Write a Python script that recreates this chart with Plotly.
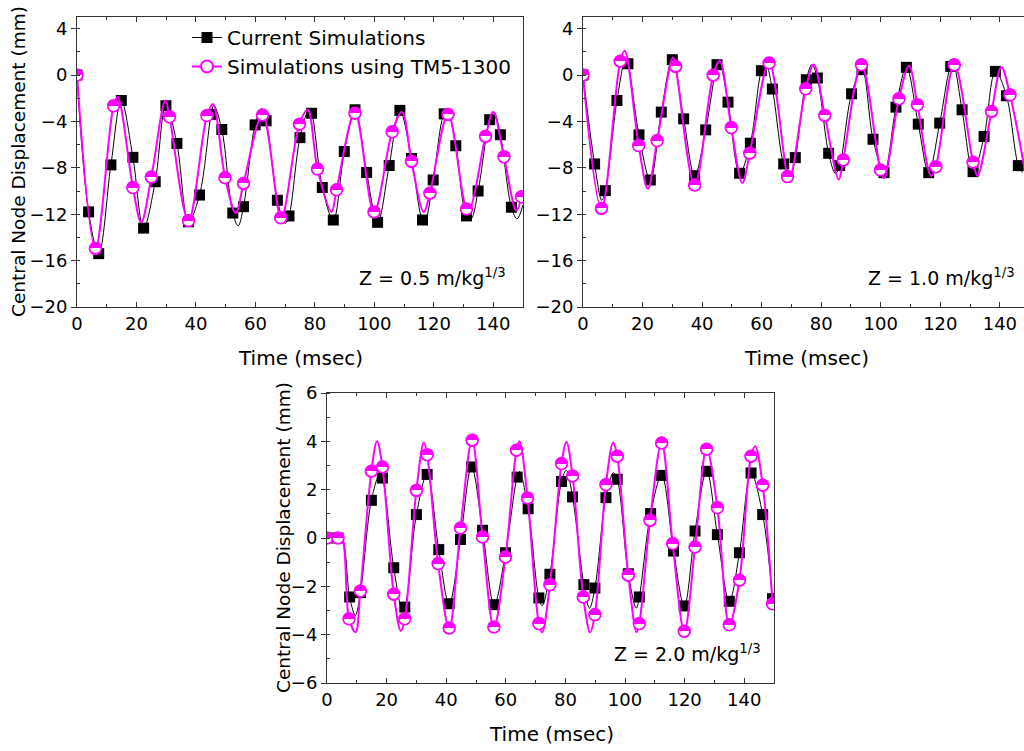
import plotly.graph_objects as go

# ---------------- Data ----------------
# Panel A : Z = 0.5 m/kg^1/3
a_cur_t = [0, 3.9, 7.3, 11.4, 14.9, 18.8, 22.4, 26.3, 29.9, 33.6, 37.5, 41.2, 45.1, 48.7, 52.4, 56.0,
           59.9, 63.6, 67.4, 71.3, 75.0, 78.9, 82.5, 86.2, 89.9, 93.5, 97.4, 101.1, 105.0, 108.6,
           112.5, 116.2, 119.8, 123.5, 127.4, 131.0, 134.9, 138.8, 142.4, 146.1]
a_cur_v = [0, -11.8, -15.4, -7.75, -2.2, -7.1, -13.2, -9.2, -2.65, -5.9, -12.65, -10.35, -3.4, -4.7,
           -11.9, -11.35, -4.3, -3.95, -10.8, -12.15, -5.4, -3.3, -9.7, -12.5, -6.6, -3.0, -8.4, -12.7,
           -7.8, -3.05, -7.2, -12.5, -9.05, -3.35, -6.1, -12.15, -10.0, -3.85, -5.15, -11.4]
a_cur_ext_t = [7.6, 14.5, 22.5, 30.2, 38.0, 46.0, 54.2, 62.0, 70.0, 78.0, 86.0, 93.8, 101.5, 109.2,
               117.0, 124.6, 132.5, 140.2, 148.0, 150.0]
a_cur_ext_v = [-15.6, -2.0, -13.3, -2.4, -12.9, -2.6, -13.0, -2.9, -12.8, -3.0, -12.7, -2.9, -12.8,
               -3.0, -12.6, -3.2, -12.4, -3.2, -12.4, -11.2]
a_tm_t = [0, 6.2, 12.3, 18.8, 25.0, 31.1, 37.5, 43.7, 49.8, 56.0, 62.4, 68.5, 74.8, 80.9, 87.3, 93.5,
          99.9, 106.0, 112.5, 118.7, 124.8, 131.0, 137.4, 143.6, 149.5]
a_tm_v = [0, -14.95, -2.65, -9.7, -8.8, -3.6, -12.55, -3.5, -8.85, -9.35, -3.45, -12.3, -4.25, -8.1,
          -9.9, -3.3, -11.8, -4.9, -7.45, -10.2, -3.4, -11.55, -5.3, -7.05, -10.5]
a_tm_ext_t = [6.6, 13.7, 21.6, 29.7, 37.6, 45.7, 53.4, 61.9, 69.3, 77.6, 85.6, 93.6, 100.6, 109.3,
              116.6, 124.8, 132.0, 140.0, 147.8]
a_tm_ext_v = [-15.1, -1.9, -12.7, -2.2, -12.6, -2.5, -11.9, -2.8, -12.1, -3.0, -11.8, -3.0, -11.7,
              -3.2, -11.8, -3.3, -11.6, -3.2, -11.7]

# Panel B : Z = 1.0 m/kg^1/3
b_cur_t = [0, 3.9, 7.5, 11.4, 15.1, 18.8, 22.6, 26.3, 30.0, 33.8, 37.5, 41.2, 45.0, 48.7, 52.6, 56.2,
           59.9, 63.6, 67.4, 71.3, 75.0, 78.7, 82.5, 86.2, 90.2, 93.7, 97.4, 101.1, 105.1, 108.6,
           112.6, 116.1, 119.8, 123.5, 127.3, 131.0, 134.7, 138.5, 142.2, 146.2]
b_cur_v = [0, -7.67, -9.97, -2.2, 0.97, -5.16, -9.05, -3.2, 1.32, -3.78, -8.68, -4.73, 0.89, -2.34,
           -8.47, -5.88, 0.37, -1.21, -7.67, -7.12, -0.41, -0.26, -6.75, -7.81, -1.62, 0.46, -5.54,
           -8.42, -2.77, 0.66, -4.24, -8.42, -4.15, 0.74, -3.0, -8.33, -5.3, 0.31, -1.79, -7.81]
b_cur_ext_t = [6.3, 14.3, 22.2, 30.2, 37.6, 45.7, 53.3, 61.3, 69.5, 76.9, 84.8, 93.8, 101.0, 108.9,
               116.2, 124.3, 131.6, 139.0, 147.6]
b_cur_ext_v = [-10.8, 1.4, -9.3, 1.5, -9.0, 1.2, -9.0, 1.0, -8.7, 0.9, -8.5, 0.7, -8.7, 0.9, -8.7,
               0.9, -8.6, 0.6, -8.4]
b_tm_t = [0, 6.2, 12.5, 18.7, 24.9, 31.1, 37.5, 43.7, 49.8, 56.0, 62.5, 68.7, 74.8, 81.2, 87.4, 93.5,
          99.9, 106.1, 112.3, 118.5, 124.7, 131.0, 137.2, 143.4]
b_tm_v = [0, -11.5, 1.18, -6.08, -5.65, 0.74, -9.48, -0.03, -4.53, -6.75, 1.03, -8.76, -1.19, -3.49,
          -7.32, 0.89, -8.19, -2.05, -2.57, -7.9, 0.89, -7.52, -3.14, -1.7]
b_tm_ext_t = [14.0, 21.8, 30.2, 45.9, 53.5, 69.4, 77.5, 85.9, 93.6, 101.1, 109.5, 116.9, 125.2,
              132.5, 140.5, 148.5]
b_tm_ext_v = [2.1, -9.8, 1.5, 1.2, -9.3, -9.0, 0.9, -9.0, 1.0, -8.9, 0.8, -8.7, 0.9, -8.7, 0.7, -8.4]

# Panel C : Z = 2.0 m/kg^1/3
c_cur_t = [0, 3.7, 7.6, 11.2, 14.9, 18.6, 22.4, 26.1, 30.0, 33.6, 37.5, 41.0, 44.8, 48.5, 52.2, 56.1,
           59.9, 63.8, 67.5, 71.1, 74.8, 78.7, 82.4, 86.2, 89.9, 93.6, 97.4, 101.1, 104.8, 108.6,
           112.3, 116.3, 119.9, 123.5, 127.4, 131.0, 135.0, 138.4, 142.3, 146.2, 149.5]
c_cur_v = [0, 0, -2.44, -2.26, 1.56, 2.48, -1.23, -2.86, 0.97, 2.63, -0.48, -2.72, -0.06, 2.94, 0.32,
           -2.76, -0.61, 2.52, 1.21, -2.48, -1.5, 2.34, 1.7, -1.93, -2.07, 1.67, 2.43, -1.48, -2.44,
           1.01, 2.59, -0.54, -2.81, 0.29, 2.76, 0.14, -2.62, -0.61, 2.69, 0.97, -2.51]
c_cur_ext_t = [5.0, 9.5, 17.7, 25.3, 33.1, 64.6, 72.2, 80.3, 88.1, 96.1, 103.8, 150.0]
c_cur_ext_v = [0.0, -3.2, 2.65, -2.95, 2.85, 2.75, -2.8, 2.8, -2.9, 2.7, -2.9, -2.75]
c_tm_t = [0, 3.7, 7.4, 11.2, 14.9, 18.6, 22.4, 26.1, 30.0, 33.6, 37.3, 41.0, 44.8, 48.7, 52.2, 56.0,
          59.9, 63.6, 67.3, 71.1, 74.8, 78.7, 82.4, 86.0, 89.9, 93.6, 97.4, 101.1, 104.8, 108.4,
          112.3, 116.0, 119.9, 123.5, 127.4, 131.0, 135.0, 138.4, 142.3, 146.2, 149.5]
c_tm_v = [0, 0, -3.34, -2.19, 2.76, 2.94, -2.33, -3.34, 1.97, 3.45, -1.06, -3.72, 0.41, 4.04, 0.04,
          -3.68, -0.79, 3.63, 1.66, -3.54, -1.93, 3.08, 2.57, -2.44, -3.17, 2.21, 3.38, -1.54, -3.54,
          0.73, 3.93, -0.23, -3.86, -0.37, 3.67, 1.26, -3.59, -1.75, 3.38, 2.18, -2.72]
c_tm_ext_t = [5.0, 9.6, 16.8, 24.8, 32.5, 64.6, 72.2, 80.35, 88.3, 96.05, 103.9, 143.7, 150.0]
c_tm_ext_v = [0.0, -3.9, 4.0, -3.85, 3.95, 4.0, -3.9, 3.97, -3.9, 3.95, -3.9, 3.8, -3.1]

panel_labels = ["Z = 0.5 m/kg<sup>1/3</sup>", "Z = 1.0 m/kg<sup>1/3</sup>", "Z = 2.0 m/kg<sup>1/3</sup>"]
series_names = ["Current Simulations", "Simulations using TM5-1300"]
x_title = "Time (msec)"
y_title = "Central Node Displacement (mm)"

# ---------------- Helpers ----------------
W, H = 1024, 751
BLACK = "#000000"
MAG = "#ff00ff"
FONT = "DejaVu Sans, Arial, sans-serif"


def merge(mt, mv, et, ev, tol=0.7):
    pts = list(zip(mt, mv))
    for t, v in zip(et, ev):
        if min(abs(t - m) for m in mt) > tol:
            pts.append((t, v))
    pts.sort()
    return [p[0] for p in pts], [p[1] for p in pts]


def px_x(p):
    return p / W


def px_y(p):
    return 1 - p / H


fig = go.Figure()

panels = [
    (a_cur_t, a_cur_v, a_cur_ext_t, a_cur_ext_v, a_tm_t, a_tm_v, a_tm_ext_t, a_tm_ext_v, "x", "y"),
    (b_cur_t, b_cur_v, b_cur_ext_t, b_cur_ext_v, b_tm_t, b_tm_v, b_tm_ext_t, b_tm_ext_v, "x2", "y2"),
    (c_cur_t, c_cur_v, c_cur_ext_t, c_cur_ext_v, c_tm_t, c_tm_v, c_tm_ext_t, c_tm_ext_v, "x3", "y3"),
]

for (ct, cv, cet, cev, mt, mv, met, mev, xa, ya) in panels:
    lx, ly = merge(ct, cv, cet, cev)
    fig.add_trace(go.Scatter(x=lx, y=ly, mode="lines", line=dict(color=BLACK, width=1, shape="spline", smoothing=1.0),
                             showlegend=False, hoverinfo="skip", xaxis=xa, yaxis=ya))
    fig.add_trace(go.Scatter(x=ct, y=cv, mode="markers", marker=dict(symbol="square", size=11, color=BLACK),
                             showlegend=False, xaxis=xa, yaxis=ya))
    lx, ly = merge(mt, mv, met, mev)
    fig.add_trace(go.Scatter(x=lx, y=ly, mode="lines", line=dict(color=MAG, width=2, shape="spline", smoothing=1.0),
                             showlegend=False, hoverinfo="skip", xaxis=xa, yaxis=ya))
    fig.add_trace(go.Scatter(x=mt, y=mv, mode="markers",
                             marker=dict(symbol="circle", size=12, color="white", line=dict(color=MAG, width=1.5)),
                             showlegend=False, xaxis=xa, yaxis=ya))
    fig.add_trace(go.Scatter(x=mt, y=mv, mode="text", text=["\u25d3"] * len(mt),
                             textfont=dict(family="DejaVu Sans", size=16, color=MAG), textposition="middle center",
                             showlegend=False, hoverinfo="skip", xaxis=xa, yaxis=ya))

# legend entries
fig.add_trace(go.Scatter(x=[None], y=[None], mode="lines+markers", name=series_names[0],
                         line=dict(color=BLACK, width=1), marker=dict(symbol="square", size=11, color=BLACK)))
fig.add_trace(go.Scatter(x=[None], y=[None], mode="lines+markers", name=series_names[1],
                         line=dict(color=MAG, width=2),
                         marker=dict(symbol="circle", size=12, color="white", line=dict(color=MAG, width=2))))

# ---------------- Axes ----------------
boxes = {  # pixel boxes: left, right, top, bottom
    1: (77, 523, 17, 307),
    2: (583, 1024, 17, 307),
    3: (327, 774, 393, 683),
}
xranges = {1: [0, 150], 2: [0, 148.1], 3: [0, 150]}
yranges = {1: [-20, 5], 2: [-20, 5], 3: [-6, 6]}
ydtick = {1: 4, 2: 4, 3: 2}

tickfont = dict(family=FONT, size=18, color="black")
for i in (1, 2, 3):
    l, r, t, b = boxes[i]
    sx = "" if i == 1 else str(i)
    fig.layout["xaxis" + sx] = dict(
        domain=[px_x(l), px_x(r)], range=xranges[i], anchor="y" + sx,
        tick0=0, dtick=20, ticks="inside", ticklen=5, tickwidth=1, tickcolor="#333",
        minor=dict(dtick=10, ticks="inside", ticklen=3, tickcolor="#333"),
        showline=True, linecolor="#333", linewidth=1, mirror="ticks",
        showgrid=False, zeroline=False, tickfont=tickfont, automargin=False,
    )
    fig.layout["yaxis" + sx] = dict(
        domain=[px_y(b), px_y(t)], range=yranges[i], anchor="x" + sx,
        tick0=0, dtick=ydtick[i], ticks="outside", ticklen=5, tickwidth=1, tickcolor="#333",
        minor=dict(dtick=ydtick[i] / 2, ticks="inside", ticklen=3, tickcolor="#333"),
        showline=True, linecolor="#333", linewidth=1, mirror=True,
        showgrid=False, zeroline=False, tickfont=tickfont, automargin=False,
    )
    # right-side inward ticks
    fig.layout["yaxis" + str(i + 3)] = dict(
        overlaying="y" + sx, anchor="x" + sx, side="right", range=yranges[i],
        tick0=0, dtick=ydtick[i], ticks="inside", ticklen=5, tickcolor="#333",
        minor=dict(dtick=ydtick[i] / 2, ticks="inside", ticklen=3, tickcolor="#333"),
        showticklabels=False, showline=False, showgrid=False, zeroline=False, automargin=False,
    )

# ---------------- Annotations ----------------
ann = []
ann.append(dict(text=panel_labels[0], x=px_x(508), y=px_y(277), xanchor="right", yanchor="middle"))
ann.append(dict(text=panel_labels[1], x=px_x(1017), y=px_y(277), xanchor="right", yanchor="middle"))
ann.append(dict(text=panel_labels[2], x=px_x(763), y=px_y(653), xanchor="right", yanchor="middle"))
for a in ann:
    a.update(xref="paper", yref="paper", showarrow=False, font=dict(family=FONT, size=19, color="black"))
for (cx, cy) in [(300, 358), (806, 358), (551, 734)]:
    ann.append(dict(text=x_title, x=px_x(cx), y=px_y(cy), xref="paper", yref="paper", showarrow=False,
                    xanchor="center", yanchor="middle", font=dict(family=FONT, size=20, color="black")))
for (cx, cy) in [(18, 162), (283, 538)]:
    ann.append(dict(text=y_title, x=px_x(cx), y=px_y(cy), xref="paper", yref="paper", showarrow=False,
                    textangle=-90, xanchor="center", yanchor="middle",
                    font=dict(family=FONT, size=18.5, color="black")))

fig.update_layout(
    width=W, height=H,
    margin=dict(l=0, r=0, t=0, b=0, pad=0, autoexpand=False),
    paper_bgcolor="white", plot_bgcolor="white",
    annotations=ann,
    showlegend=True,
    legend=dict(x=px_x(187), y=px_y(18), xanchor="left", yanchor="top", bgcolor="rgba(0,0,0,0)",
                font=dict(family=FONT, size=20, color="black"), tracegroupgap=0, itemwidth=30),
)

fig.write_html("out.html", config={"displayModeBar": False},
               post_script="document.body.style.margin='0';document.body.style.overflow='hidden';")
